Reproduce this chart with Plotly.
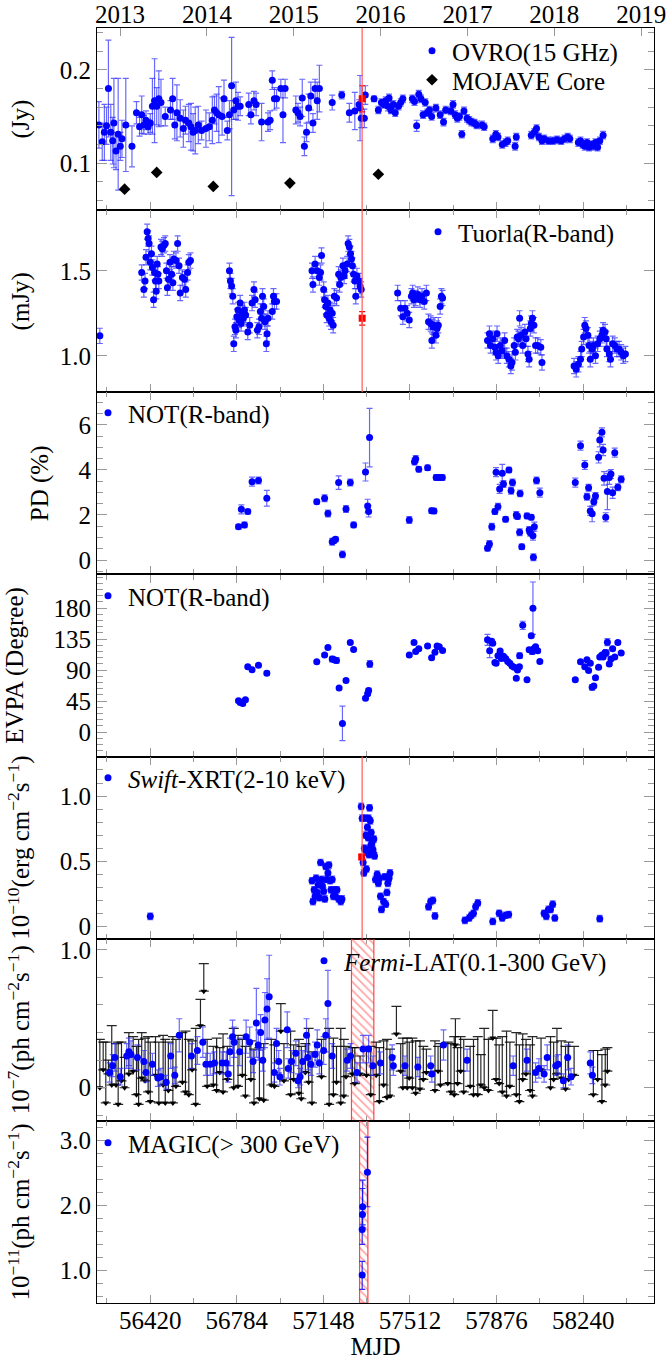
import plotly.graph_objects as go
from plotly.subplots import make_subplots

FONT = "Liberation Serif, Times New Roman, DejaVu Serif, serif"
FS = 25
LEG_FS = 25

X_RANGE = [56196, 58538]
MJD_TICKS = [56420, 56784, 57148, 57512, 57876, 58240]
MJD_MINOR = [56238, 56602, 56966, 57330, 57694, 58058, 58422]
YEAR_MJD = [56293, 56658, 57023, 57388, 57754, 58119, 58484]
YEAR_LABELS = ["2013", "2014", "2015", "2016", "2017", "2018", "2019"]

FLARE_MJD = 57311
FERMI_BAND = [57266, 57360]
MAGIC_BAND = [57300, 57335]

# ---------------- OVRO 15 GHz (Jy) ----------------
OVRO_MJD = [56204, 56218, 56227, 56236, 56244, 56254, 56262, 56267, 56276, 56285, 56294, 56301,
            56317, 56343, 56362, 56375, 56384, 56393, 56402, 56411, 56420, 56429, 56438, 56447,
            56456, 56465, 56483, 56505, 56514, 56523, 56532, 56546, 56559, 56568, 56582, 56591,
            56600, 56609, 56622, 56636, 56654, 56668, 56681, 56690, 56699, 56708, 56722, 56730,
            56744, 56753, 56762, 56771, 56780, 56789, 56798, 56834, 56843, 56856, 56865, 56888,
            56915, 56924, 56933, 56942, 56951, 56969, 56978, 56987, 57032, 57041, 57050, 57059,
            57068, 57077, 57086, 57095, 57104, 57113, 57122, 57131, 57185, 57225, 57257, 57280,
            57298, 57302, 57307, 57320, 57324, 57361, 57379, 57392, 57401, 57410, 57419, 57424,
            57432, 57442, 57450, 57464, 57473, 57482, 57522, 57531, 57540, 57549, 57558, 57567,
            57576, 57585, 57594, 57603, 57621, 57639, 57653, 57662, 57684, 57693, 57702, 57711,
            57720, 57730, 57739, 57752, 57761, 57770, 57783, 57792, 57815, 57824, 57860, 57873,
            57882, 57900, 57914, 57923, 57954, 57959, 58022, 58035, 58044, 58054, 58067, 58076,
            58094, 58112, 58130, 58148, 58162, 58175, 58184, 58220, 58229, 58238, 58247, 58256,
            58265, 58274, 58283, 58292, 58301, 58310, 58324]
OVRO_FLUX = [0.141, 0.123, 0.133, 0.140, 0.180, 0.133, 0.124, 0.143, 0.113, 0.131, 0.118, 0.126,
             0.141, 0.118, 0.154, 0.139, 0.152, 0.141, 0.146, 0.139, 0.143, 0.161, 0.167, 0.161,
             0.169, 0.165, 0.150, 0.157, 0.169, 0.141, 0.154, 0.148, 0.137, 0.146, 0.143, 0.139,
             0.133, 0.135, 0.141, 0.135, 0.137, 0.139, 0.146, 0.157, 0.154, 0.152, 0.150, 0.169,
             0.135, 0.152, 0.183, 0.157, 0.167, 0.161, 0.161, 0.163, 0.152, 0.167, 0.163, 0.144,
             0.144, 0.146, 0.189, 0.169, 0.169, 0.180, 0.152, 0.180, 0.157, 0.154, 0.150, 0.170,
             0.118, 0.133, 0.159, 0.172, 0.143, 0.180, 0.167, 0.180, 0.165, 0.173, 0.154, 0.156,
             0.163, 0.159, 0.148, 0.148, 0.173, 0.169, 0.157, 0.165, 0.163, 0.167, 0.161, 0.170,
             0.157, 0.163, 0.154, 0.161, 0.165, 0.169, 0.169, 0.166, 0.140, 0.174, 0.169, 0.152,
             0.165, 0.154, 0.157, 0.150, 0.159, 0.152, 0.144, 0.157, 0.156, 0.163, 0.152, 0.148,
             0.150, 0.131, 0.156, 0.148, 0.146, 0.144, 0.143, 0.141, 0.141, 0.139, 0.126, 0.131,
             0.128, 0.120, 0.122, 0.124, 0.118, 0.128, 0.130, 0.133, 0.137, 0.128, 0.124, 0.126,
             0.124, 0.124, 0.125, 0.124, 0.126, 0.128, 0.126, 0.122, 0.124, 0.120, 0.118, 0.122,
             0.117, 0.120, 0.118, 0.122, 0.117, 0.124, 0.130]
OVRO_ERR = [0.025, 0.020, 0.030, 0.020, 0.052, 0.030, 0.025, 0.048, 0.020, 0.060, 0.015, 0.020,
            0.050, 0.022, 0.012, 0.010, 0.020, 0.010, 0.010, 0.008, 0.010, 0.030, 0.045, 0.020,
            0.030, 0.025, 0.010, 0.010, 0.022, 0.015, 0.030, 0.020, 0.020, 0.015, 0.020, 0.025,
            0.020, 0.025, 0.020, 0.010, 0.020, 0.015, 0.025, 0.015, 0.020, 0.030, 0.020, 0.020,
            0.010, 0.015, 0.052, 0.010, 0.020, 0.015, 0.010, 0.012, 0.010, 0.010, 0.012, 0.020,
            0.010, 0.010, 0.010, 0.012, 0.010, 0.010, 0.030, 0.010, 0.015, 0.010, 0.010, 0.020,
            0.010, 0.010, 0.015, 0.015, 0.010, 0.010, 0.020, 0.025, 0.008, 0.004, 0.010, 0.020,
            0.005, 0.035, 0.010, 0.010, 0.010, 0.003, 0.004, 0.004, 0.004, 0.004, 0.005, 0.004,
            0.004, 0.004, 0.004, 0.004, 0.004, 0.004, 0.004, 0.004, 0.006, 0.004, 0.004, 0.004,
            0.004, 0.004, 0.004, 0.004, 0.004, 0.004, 0.004, 0.004, 0.004, 0.004, 0.004, 0.004,
            0.004, 0.004, 0.004, 0.004, 0.004, 0.004, 0.004, 0.004, 0.004, 0.004, 0.004, 0.004,
            0.004, 0.004, 0.004, 0.004, 0.004, 0.004, 0.004, 0.004, 0.004, 0.004, 0.004, 0.004,
            0.004, 0.004, 0.004, 0.004, 0.004, 0.004, 0.004, 0.004, 0.004, 0.004, 0.004, 0.004,
            0.004, 0.004, 0.004, 0.004, 0.004, 0.004, 0.004]
OVRO_ERR_MINUS_OVERRIDE = {56762: 0.118}
OVRO_FLARE = dict(mjd=[57311], flux=[0.169], err=[0.014])

MOJAVE_MJD = [56312, 56447, 56685, 57007, 57379]
MOJAVE_FLUX = [0.072, 0.090, 0.075, 0.0785, 0.088]

# ---------------- Tuorla R-band (mJy) ----------------
TUORLA_MJD = [56208,
              56384, 56393, 56398, 56402, 56407, 56411, 56415, 56420, 56425, 56429, 56434, 56438,
              56442, 56445, 56449, 56452, 56456, 56465, 56470, 56478, 56483, 56488, 56492, 56497,
              56503, 56510, 56515, 56519, 56528, 56535, 56541, 56546, 56555, 56564, 56569, 56577,
              56582, 56589,
              56753, 56757, 56762, 56767, 56771, 56776, 56780, 56784, 56789, 56793, 56798, 56802,
              56807, 56811, 56816, 56821, 56830, 56838, 56848, 56856, 56861, 56870, 56877, 56883,
              56888, 56892, 56897, 56902, 56908, 56911, 56915, 56933, 56938, 56942, 56951,
              57100, 57104, 57113, 57122, 57131, 57136, 57140, 57149, 57153, 57158, 57162, 57167,
              57172, 57176, 57180, 57185, 57189, 57194, 57203, 57212, 57216, 57221, 57230, 57235,
              57239, 57248, 57252, 57257, 57262, 57266, 57270, 57275, 57280, 57284, 57289, 57297,
              57302, 57307,
              57460, 57473, 57482, 57491, 57500, 57509, 57518, 57523, 57529, 57536, 57545, 57554,
              57563, 57572, 57581, 57590, 57599, 57604, 57608, 57613, 57621, 57626, 57631, 57639,
              57644, 57649,
              57838, 57846, 57851, 57860, 57869, 57874, 57878, 57883, 57892, 57900, 57910, 57919,
              57928, 57936, 57941, 57950, 57955, 57963, 57968, 57973, 57979, 57986, 57995, 58000,
              58008, 58013, 58018, 58022, 58027, 58033, 58040, 58049, 58062, 58067,
              58202, 58211, 58220, 58229, 58234, 58242, 58247, 58252, 58260, 58265, 58270, 58278,
              58283, 58292, 58301, 58310, 58319, 58324, 58332, 58337, 58340, 58350, 58355, 58364,
              58373, 58382, 58391, 58400, 58409, 58418]
TUORLA_FLUX = [1.117,
               1.49, 1.39, 1.44, 1.58, 1.73, 1.69, 1.66, 1.55, 1.60, 1.52, 1.33, 1.49,
               1.44, 1.38, 1.54, 1.48, 1.44, 1.64, 1.63, 1.65, 1.66, 1.50, 1.40, 1.45,
               1.55, 1.48, 1.43, 1.57, 1.56, 1.66, 1.53, 1.37, 1.46, 1.45, 1.39, 1.49,
               1.55, 1.56,
               1.50, 1.44, 1.41, 1.35, 1.07, 1.17, 1.15, 1.23, 1.27, 1.21, 1.31, 1.19,
               1.25, 1.22, 1.27, 1.24, 1.14, 1.18, 1.31, 1.39, 1.33, 1.15, 1.17, 1.26,
               1.22, 1.35, 1.29, 1.20, 1.07, 1.13, 1.22, 1.26, 1.35, 1.32, 1.32,
               1.50, 1.42, 1.54, 1.50, 1.46, 1.49, 1.59, 1.39, 1.33, 1.29, 1.24, 1.31,
               1.22, 1.27, 1.20, 1.25, 1.18, 1.35, 1.34, 1.48, 1.42, 1.46, 1.53, 1.47,
               1.50, 1.54, 1.66, 1.64, 1.60, 1.57, 1.53, 1.48, 1.44, 1.35, 1.47, 1.44,
               1.41, 1.39,
               1.37, 1.28, 1.23, 1.28, 1.25, 1.21, 1.35, 1.37, 1.33, 1.34, 1.36, 1.33,
               1.35, 1.32, 1.37, 1.20, 1.19, 1.09, 1.17, 1.18, 1.12, 1.16, 1.18, 1.29,
               1.35, 1.34,
               1.09, 1.13, 1.06, 1.10, 1.05, 1.02, 1.13, 1.00, 1.06, 1.03, 1.09, 1.00,
               0.98, 0.94, 0.96, 1.06, 1.02, 1.11, 1.10, 1.22, 1.12, 1.06, 1.14, 1.10,
               1.01, 0.98, 1.16, 1.19, 1.22, 1.18, 1.06, 1.06, 1.05, 0.96,
               0.94, 0.92, 0.95, 0.98, 1.04, 1.11, 1.18, 1.16, 1.12, 1.06, 0.98, 1.04,
               1.06, 1.00, 1.07, 1.10, 1.12, 1.15, 1.14, 1.10, 1.04, 1.01, 0.98, 1.07,
               1.06, 1.04, 1.04, 1.02, 1.00, 1.01]
TUORLA_ERR = 0.045
TUORLA_FLARE = dict(mjd=[57311], flux=[1.22], err=[0.04])

# ---------------- NOT polarization degree (%) ----------------
PD_MJD = [56791, 56803, 56816, 56830, 56848, 56875, 56910,
          57120, 57153, 57167, 57185, 57192, 57199, 57212, 57228, 57243, 57261, 57275, 57325,
          57334, 57338, 57342,
          57509, 57531, 57536, 57549, 57586, 57603, 57613, 57622, 57635, 57648,
          57838, 57846, 57856, 57869, 57874, 57882, 57889, 57900, 57905, 57914, 57928, 57937,
          57943, 57959, 57964, 57973, 57975, 57982, 58004, 58013, 58018, 58022, 58029, 58031,
          58035, 58044, 58058,
          58207, 58229, 58247, 58256, 58263, 58270, 58278, 58285, 58292, 58305, 58310, 58319,
          58324, 58328, 58335, 58342, 58350, 58357, 58364, 58373, 58386, 58400]
PD_VAL = [1.48, 2.25, 1.56, 2.15, 3.48, 3.53, 2.74,
          2.59, 2.74, 2.07, 0.81, 0.86, 0.92, 3.44, 0.25, 2.27, 3.44, 1.56, 3.91,
          2.40, 2.16, 5.44,
          1.78, 4.37, 4.49, 4.03, 4.10, 2.19, 2.18, 3.67, 3.67, 3.66,
          0.52, 0.71, 1.48, 2.15, 3.90, 2.37, 3.16, 3.85, 3.38, 1.81, 4.00, 3.08,
          3.44, 2.00, 1.93, 1.23, 2.96, 0.59, 1.96, 1.33, 1.21, 1.90, 1.08, 0.12,
          1.48, 3.53, 2.99,
          3.44, 5.08, 4.22, 2.81, 3.21, 2.18, 2.05, 2.59, 2.84, 4.56, 5.33, 5.67,
          4.89, 3.63, 1.90, 3.04, 3.66, 3.82, 2.99, 4.77, 3.23, 3.59]
PD_ERR = [0.10, 0.20, 0.12, 0.10, 0.20, 0.15, 0.35,
          0.10, 0.15, 0.15, 0.15, 0.10, 0.10, 0.30, 0.15, 0.15, 0.15, 0.12, 0.40,
          0.30, 0.25, 1.30,
          0.15, 0.15, 0.15, 0.12, 0.12, 0.12, 0.12, 0.12, 0.12, 0.12,
          0.12, 0.15, 0.15, 0.12, 0.20, 0.15, 0.20, 0.40, 0.15, 0.12, 0.12, 0.15,
          0.15, 0.15, 0.12, 0.15, 0.15, 0.12, 0.12, 0.15, 0.15, 0.12, 0.20, 0.15,
          0.20, 0.15, 0.20,
          0.20, 0.20, 0.20, 0.15, 0.15, 0.20, 0.35, 0.15, 0.15, 0.25, 0.30, 0.20,
          0.25, 0.30, 0.20, 0.80, 0.30, 0.20, 0.25, 0.20, 0.15, 0.15]

# ---------------- NOT EVPA (degree) ----------------
EVPA_MJD = [56791, 56798, 56809, 56820, 56830, 56848, 56875, 56910,
            57120, 57153, 57167, 57185, 57194, 57203, 57214, 57228, 57243, 57261, 57275, 57325,
            57334, 57338, 57343,
            57509, 57529, 57536, 57549, 57586, 57603, 57617, 57626, 57635, 57649,
            57838, 57847, 57855, 57860, 57869, 57874, 57882, 57891, 57896, 57905, 57914, 57923,
            57932, 57941, 57950, 57959, 57964, 57972, 57973, 57986, 58004, 58013, 58022, 58029,
            58026, 58033, 58040, 58049, 58058,
            58207, 58229, 58247, 58256, 58263, 58270, 58278, 58285, 58292, 58305, 58310, 58319,
            58324, 58332, 58337, 58342, 58350, 58357, 58364, 58373, 58386, 58400]
EVPA_VAL = [45.5, 43.0, 41.6, 46.9, 95.0, 90.5, 97.0, 85.6,
            102.0, 112.0, 123.0, 106.0, 105.0, 104.0, 64.0, 12.6, 75.0, 130.0, 120.0, 49.0,
            55.6, 60.5, 99.0,
            112.0, 130.0, 117.0, 121.0, 125.0, 108.0, 116.0, 125.0, 124.0, 118.5,
            134.0, 118.0, 132.0, 129.0, 101.0, 100.0, 111.0, 117.6, 107.0, 110.0, 107.0, 102.6,
            100.0, 96.0, 94.0, 78.0, 90.0, 95.0, 111.0, 155.0, 76.0, 119.5, 140.0, 180.0,
            117.0, 121.0, 124.0, 118.0, 102.6,
            76.0, 102.0, 95.0, 105.0, 89.5, 100.0, 65.0, 67.0, 79.0, 94.0, 109.0, 112.0,
            109.0, 115.6, 114.7, 130.6, 98.7, 106.0, 121.0, 109.0, 130.0, 115.0]
EVPA_ERR = [2, 2, 2, 2, 2, 2, 2, 3,
            2, 2, 2, 4, 2, 4, 2, 25, 2, 2, 2, 2,
            2, 3, 5,
            2, 2, 2, 2, 2, 2, 2, 2, 2, 2,
            8, 10, 3, 2, 2, 2, 2, 2, 2, 2, 2, 2,
            2, 2, 2, 2, 2, 2, 4, 6, 2, 2, 2, 38,
            4, 3, 2, 2, 2,
            2, 2, 2, 2, 2, 2, 4, 2, 2, 2, 2, 2,
            2, 2, 5, 5, 2, 2, 2, 2, 2, 2]

# ---------------- Swift-XRT 2-10 keV ----------------
SWIFT_MJD = [56420,
             57100, 57104, 57109, 57113, 57117, 57122, 57126, 57131, 57136, 57140, 57144, 57149,
             57154, 57158, 57162, 57167, 57171, 57176, 57180, 57185, 57190, 57194, 57199, 57205,
             57212, 57221, 57226,
             57307, 57311, 57315, 57318, 57320, 57322, 57325, 57327, 57329, 57331, 57333, 57336,
             57338, 57340, 57342, 57345, 57347, 57349, 57352, 57356, 57358, 57360, 57363, 57367,
             57374, 57379, 57383, 57388, 57392, 57401, 57406, 57410, 57415, 57419, 57424, 57428,
             57590, 57599, 57608, 57617, 57743, 57761, 57770, 57779, 57788, 57797, 57860, 57887,
             57900, 57914, 57927, 58076, 58085, 58094, 58103, 58112, 58121, 58310]
SWIFT_FLUX = [0.077,
              0.35, 0.19, 0.28, 0.23, 0.37, 0.26, 0.32, 0.22, 0.49, 0.36, 0.31, 0.27,
              0.21, 0.46, 0.36, 0.41, 0.47, 0.35, 0.28, 0.36, 0.23, 0.28, 0.23, 0.28,
              0.21, 0.19, 0.21,
              0.92, 0.83, 0.49, 0.41, 0.60, 0.83, 0.59, 0.70, 0.44, 0.57, 0.76, 0.68,
              0.83, 0.55, 0.91, 0.81, 0.62, 0.72, 0.64, 0.59, 0.56, 0.67, 0.54, 0.36,
              0.40, 0.33, 0.37, 0.23, 0.13, 0.19, 0.38, 0.17, 0.26, 0.33, 0.37, 0.41,
              0.15, 0.19, 0.20, 0.08, 0.046, 0.064, 0.085, 0.10, 0.15, 0.18, 0.038, 0.10,
              0.064, 0.085, 0.09, 0.10, 0.077, 0.13, 0.13, 0.17, 0.064, 0.059]
SWIFT_ERR = 0.025
SWIFT_FLARE = dict(mjd=[57309], flux=[0.533], err=[0.02])

# ---------------- Fermi-LAT 0.1-300 GeV ----------------
FERMI_MJD = [56249, 56262, 56271, 56294, 56321, 56330, 56339, 56366, 56393, 56402, 56429, 56452,
             56465, 56487, 56506, 56523, 56542, 56593, 56618, 56641, 56654, 56672, 56690, 56722,
             56739, 56748, 56755, 56766, 56773, 56796, 56823, 56838, 56852, 56866, 56874, 56884,
             56893, 56902, 56911, 56920, 56942, 56951, 56960, 56965, 56996, 57000, 57014, 57032,
             57041, 57050, 57061, 57077, 57082, 57095, 57113, 57122, 57131, 57149, 57158, 57167,
             57185, 57248, 57262, 57289, 57315, 57338, 57356, 57388, 57437, 57442, 57491, 57545,
             57599, 57604, 57653, 57752, 57946, 58004, 58040, 58054, 58076, 58089, 58125, 58135,
             58157, 58175, 58189, 58270, 58279]
FERMI_FLUX = [0.11, 0.16, 0.22, 0.08, 0.23, 0.26, 0.24, 0.22, 0.19, 0.11, 0.17, 0.07,
              0.08, 0.04, 0.23, 0.09, 0.38, 0.23, 0.27, 0.33, 0.17, 0.17, 0.18, 0.18,
              0.18, 0.10, 0.26, 0.37, 0.33, 0.26, 0.37, 0.33, 0.19, 0.47, 0.31, 0.40,
              0.20, 0.49, 0.57, 0.66, 0.11, 0.32, 0.19, 0.08, 0.42, 0.14, 0.19, 0.25,
              0.05, 0.08, 0.19, 0.38, 0.22, 0.17, 0.24, 0.31, 0.18, 0.27, 0.38, 0.61,
              0.23, 0.20, 0.23, 0.11, 0.28, 0.28, 0.16, 0.18, 0.22, 0.16, 0.16, 0.15,
              0.16, 0.10, 0.31, 0.20, 0.16, 0.20, 0.11, 0.14, 0.10, 0.22, 0.16, 0.17,
              0.05, 0.22, 0.08, 0.18, 0.09]
FERMI_ERR = [0.07, 0.08, 0.10, 0.06, 0.09, 0.10, 0.10, 0.09, 0.08, 0.07, 0.08, 0.06,
             0.06, 0.05, 0.09, 0.06, 0.12, 0.09, 0.10, 0.11, 0.08, 0.08, 0.08, 0.08,
             0.08, 0.06, 0.10, 0.12, 0.11, 0.10, 0.12, 0.11, 0.08, 0.25, 0.11, 0.13,
             0.08, 0.20, 0.22, 0.30, 0.07, 0.11, 0.08, 0.06, 0.13, 0.07, 0.08, 0.09,
             0.05, 0.06, 0.08, 0.12, 0.09, 0.08, 0.09, 0.11, 0.08, 0.10, 0.12, 0.24,
             0.09, 0.08, 0.09, 0.07, 0.10, 0.10, 0.07, 0.08, 0.09, 0.07, 0.07, 0.07,
             0.07, 0.06, 0.11, 0.08, 0.07, 0.08, 0.07, 0.07, 0.06, 0.09, 0.07, 0.07,
             0.05, 0.09, 0.06, 0.08, 0.06]
FERMI_UL_MJD = [56208, 56222, 56233, 56244, 56258, 56276, 56285, 56299, 56312, 56330, 56348, 56362,
                56371, 56384, 56398, 56411, 56420, 56442, 56456, 56474, 56483, 56496, 56515, 56528,
                56555, 56568, 56582, 56596, 56611, 56631, 56645, 56659, 56685, 56699, 56712, 56726,
                56744, 56771, 56789, 56807, 56820, 56843, 56856, 56879, 56897, 56929, 56942, 56969,
                56982, 57010, 57023, 57045, 57055, 57072, 57086, 57100, 57140, 57172, 57190, 57203,
                57221, 57234, 57243, 57270, 57280, 57302, 57329, 57347, 57370, 57383, 57401, 57415,
                57428, 57455, 57473, 57482, 57500, 57509, 57522, 57536, 57554, 57568, 57581, 57617,
                57630, 57640, 57671, 57684, 57698, 57703, 57712, 57725, 57738, 57765, 57779, 57797,
                57810, 57824, 57842, 57860, 57874, 57887, 57900, 57918, 57932, 57959, 57972, 57986,
                58000, 58017, 58027, 58063, 58103, 58116, 58130, 58148, 58166, 58179, 58202, 58283,
                58301, 58319, 58333, 58342]
FERMI_UL_TOP = [0.35, 0.33, 0.33, 0.20, 0.45, 0.32, 0.33, 0.33, 0.22, 0.40, 0.37, 0.30,
                0.35, 0.40, 0.36, 0.37, 0.33, 0.37, 0.33, 0.38, 0.35, 0.33, 0.37, 0.35,
                0.40, 0.41, 0.35, 0.34, 0.43, 0.64, 0.90, 0.35, 0.30, 0.36, 0.29, 0.39,
                0.30, 0.43, 0.38, 0.35, 0.30, 0.34, 0.28, 0.29, 0.32, 0.35, 0.31, 0.61,
                0.32, 0.41, 0.31, 0.35, 0.30, 0.32, 0.43, 0.26, 0.35, 0.43, 0.36, 0.30,
                0.43, 0.35, 0.30, 0.29, 0.29, 0.23, 0.28, 0.30, 0.33, 0.29, 0.34, 0.35,
                0.28, 0.59, 0.32, 0.36, 0.36, 0.33, 0.36, 0.34, 0.34, 0.30, 0.28, 0.34,
                0.30, 0.32, 0.33, 0.32, 0.37, 0.50, 0.29, 0.37, 0.35, 0.30, 0.35, 0.37,
                0.24, 0.43, 0.35, 0.56, 0.36, 0.31, 0.37, 0.41, 0.33, 0.40, 0.31, 0.39,
                0.35, 0.31, 0.37, 0.36, 0.37, 0.33, 0.43, 0.34, 0.30, 0.33, 0.30, 0.27,
                0.27, 0.24, 0.28, 0.29]
FERMI_UL_TIP = [0.00, 0.13, -0.11, 0.10, 0.02, 0.02, -0.12, 0.05, 0.00, 0.10, 0.12, -0.05,
                -0.12, 0.07, 0.05, -0.03, -0.10, 0.09, -0.11, 0.02, -0.11, -0.02, -0.11, 0.01,
                0.04, -0.03, -0.05, 0.13, -0.12, 0.45, 0.70, 0.01, 0.02, -0.02, 0.11, -0.03,
                0.06, 0.00, 0.01, 0.09, -0.06, 0.06, -0.11, -0.08, -0.09, 0.02, 0.01, 0.41,
                0.05, -0.05, 0.06, -0.04, -0.08, 0.11, 0.04, -0.11, 0.08, -0.12, -0.05, 0.04,
                -0.11, -0.06, 0.08, 0.10, 0.03, 0.10, 0.09, -0.05, 0.09, -0.10, 0.02, -0.07,
                -0.06, 0.39, 0.12, 0.00, 0.00, 0.07, 0.00, -0.04, -0.01, 0.06, 0.11, -0.02,
                0.12, 0.02, 0.03, -0.03, -0.05, 0.31, 0.03, 0.12, -0.03, 0.01, -0.05, -0.05,
                0.02, 0.00, -0.02, 0.36, 0.06, 0.03, -0.03, -0.06, 0.01, -0.05, -0.10, 0.06,
                0.10, -0.02, -0.06, 0.13, 0.00, 0.06, 0.10, 0.07, -0.01, 0.06, 0.09, -0.05,
                0.06, -0.10, 0.02, 0.12]

# ---------------- MAGIC > 300 GeV ----------------
MAGIC_MJD = [57311, 57311, 57312, 57313, 57333]
MAGIC_FLUX = [0.93, 1.63, 1.86, 1.98, 2.51]
MAGIC_ERR_UP = [0.21, 0.20, 0.40, 0.41, 0.54]
MAGIC_ERR_DN = [0.22, 0.23, 0.20, 0.28, 0.53]

# ---------------- axes ----------------
Y_SPECS = [
    dict(range=[0.0495, 0.245], tickvals=[0.1, 0.2], ticktext=["0.1", "0.2"],
         minor=[0.06, 0.08, 0.12, 0.14, 0.16, 0.18, 0.22, 0.24], title="(Jy)"),
    dict(range=[0.785, 1.857], tickvals=[1.0, 1.5], ticktext=["1.0", "1.5"],
         minor=[], title="(mJy)"),
    dict(range=[-0.64, 7.45], tickvals=[0, 2, 4, 6], ticktext=["0", "2", "4", "6"],
         minor=[-0.5, 0.5, 1, 1.5, 2.5, 3, 3.5, 4.5, 5, 5.5, 6.5, 7], title="PD (%)"),
    dict(range=[-35.6, 229], tickvals=[0, 45, 90, 135, 180],
         ticktext=["0", "45", "90", "135", "180"],
         minor=[-27, -18, -9, 9, 18, 27, 36, 54, 63, 72, 81, 99, 108, 117, 126, 144, 153, 162,
                171, 189, 198, 207, 216, 225], title="EVPA (Degree)"),
    dict(range=[-0.095, 1.303], tickvals=[0, 0.5, 1.0], ticktext=["0", "0.5", "1.0"],
         minor=[-0.1, 0.1, 0.2, 0.3, 0.4, 0.6, 0.7, 0.8, 0.9, 1.1, 1.2, 1.3],
         title="10<sup>−10</sup>(erg cm<sup>−2</sup>s<sup>−1</sup>)"),
    dict(range=[-0.24, 1.08], tickvals=[0, 1.0], ticktext=["0", "1.0"],
         minor=[-0.2, 0.2, 0.4, 0.6, 0.8], title="10<sup>−7</sup>(ph cm<sup>−2</sup>s<sup>−1</sup>)"),
    dict(range=[0.5, 3.3], tickvals=[1, 2, 3], ticktext=["1.0", "2.0", "3.0"],
         minor=[0.6, 0.8, 1.2, 1.4, 1.6, 1.8, 2.2, 2.4, 2.6, 2.8, 3.2],
         title="10<sup>−11</sup>(ph cm<sup>−2</sup>s<sup>−1</sup>)"),
]

BLUE = "#0000ff"
ERR_BLUE = "rgba(40,40,255,0.7)"
RED = "#ff0000"
TICK_GREY = "#9a9a9a"


def ebar(arr, color=ERR_BLUE, minus=None):
    d = dict(type="data", array=arr, color=color, thickness=1.2, width=3, visible=True)
    if minus is not None:
        d["symmetric"] = False
        d["arrayminus"] = minus
    return d


fig = make_subplots(rows=7, cols=1, shared_xaxes=True, vertical_spacing=0)

# Row 1: OVRO + MOJAVE
ovro_minus = [OVRO_ERR_MINUS_OVERRIDE.get(m, e) for m, e in zip(OVRO_MJD, OVRO_ERR)]
fig.add_trace(go.Scatter(x=OVRO_MJD, y=OVRO_FLUX, mode="markers", name="OVRO(15 GHz)",
                         marker=dict(color=BLUE, size=7), error_y=ebar(OVRO_ERR, minus=ovro_minus),
                         legend="legend"), row=1, col=1)
fig.add_trace(go.Scatter(x=OVRO_FLARE["mjd"], y=OVRO_FLARE["flux"], mode="markers", showlegend=False,
                         marker=dict(color=RED, size=7, symbol="square"),
                         error_y=ebar(OVRO_FLARE["err"], color=RED)), row=1, col=1)
fig.add_trace(go.Scatter(x=MOJAVE_MJD, y=MOJAVE_FLUX, mode="markers", name="MOJAVE Core",
                         marker=dict(color="black", size=9, symbol="diamond"),
                         legend="legend2"), row=1, col=1)

# Row 2: Tuorla
fig.add_trace(go.Scatter(x=TUORLA_MJD, y=TUORLA_FLUX, mode="markers", name="Tuorla(R-band)",
                         marker=dict(color=BLUE, size=7),
                         error_y=ebar([TUORLA_ERR] * len(TUORLA_MJD)), legend="legend3"), row=2, col=1)
fig.add_trace(go.Scatter(x=TUORLA_FLARE["mjd"], y=TUORLA_FLARE["flux"], mode="markers", showlegend=False,
                         marker=dict(color=RED, size=7, symbol="square"),
                         error_y=ebar(TUORLA_FLARE["err"], color=RED)), row=2, col=1)

# Row 3: PD
fig.add_trace(go.Scatter(x=PD_MJD, y=PD_VAL, mode="markers", name="NOT(R-band)",
                         marker=dict(color=BLUE, size=7), error_y=ebar(PD_ERR),
                         legend="legend4"), row=3, col=1)
# Row 4: EVPA
fig.add_trace(go.Scatter(x=EVPA_MJD, y=EVPA_VAL, mode="markers", name="NOT(R-band)",
                         marker=dict(color=BLUE, size=7), error_y=ebar(EVPA_ERR),
                         legend="legend5"), row=4, col=1)
# Row 5: Swift
fig.add_trace(go.Scatter(x=SWIFT_MJD, y=SWIFT_FLUX, mode="markers", name="<i>Swift</i>-XRT(2-10 keV)",
                         marker=dict(color=BLUE, size=7),
                         error_y=ebar([SWIFT_ERR] * len(SWIFT_MJD)), legend="legend6"), row=5, col=1)
fig.add_trace(go.Scatter(x=SWIFT_FLARE["mjd"], y=SWIFT_FLARE["flux"], mode="markers", showlegend=False,
                         marker=dict(color=RED, size=7, symbol="square"),
                         error_y=ebar(SWIFT_FLARE["err"], color=RED)), row=5, col=1)

HATCH = dict(shape="\\", fgcolor="rgba(255,50,50,0.9)", bgcolor="rgba(0,0,0,0)", size=6, solidity=0.28)

# Row 6: Fermi
fy0, fy1 = Y_SPECS[5]["range"]
fig.add_trace(go.Scatter(x=[FERMI_BAND[0], FERMI_BAND[1], FERMI_BAND[1], FERMI_BAND[0], FERMI_BAND[0]],
                         y=[fy0, fy0, fy1, fy1, fy0], mode="lines", fill="toself", showlegend=False,
                         line=dict(color="rgba(255,50,50,0.9)", width=1.2),
                         fillcolor="rgba(0,0,0,0)", fillpattern=HATCH,
                         hoverinfo="skip"), row=6, col=1)
fig.add_trace(go.Scatter(x=FERMI_UL_MJD, y=FERMI_UL_TIP, mode="markers", showlegend=False,
                         marker=dict(color="black", size=6, symbol="triangle-down"),
                         error_y=dict(type="data", symmetric=False,
                                      array=[t - b for t, b in zip(FERMI_UL_TOP, FERMI_UL_TIP)],
                                      arrayminus=[0] * len(FERMI_UL_MJD),
                                      color="rgba(0,0,0,0.85)", thickness=1.2, width=5)),
              row=6, col=1)
fig.add_trace(go.Scatter(x=FERMI_MJD, y=FERMI_FLUX, mode="markers", name="<i>Fermi</i>-LAT(0.1-300 GeV)",
                         marker=dict(color=BLUE, size=7), error_y=ebar(FERMI_ERR),
                         legend="legend7"), row=6, col=1)

# Row 7: MAGIC
my0, my1 = Y_SPECS[6]["range"]
fig.add_trace(go.Scatter(x=[MAGIC_BAND[0], MAGIC_BAND[1], MAGIC_BAND[1], MAGIC_BAND[0], MAGIC_BAND[0]],
                         y=[my0, my0, my1, my1, my0], mode="lines", fill="toself", showlegend=False,
                         line=dict(color="rgba(255,50,50,0.9)", width=1.2),
                         fillcolor="rgba(0,0,0,0)", fillpattern=HATCH,
                         hoverinfo="skip"), row=7, col=1)
fig.add_trace(go.Scatter(x=MAGIC_MJD, y=MAGIC_FLUX, mode="markers", name="MAGIC(&gt; 300 GeV)",
                         marker=dict(color=BLUE, size=7),
                         error_y=ebar(MAGIC_ERR_UP, color="rgba(20,20,255,0.9)", minus=MAGIC_ERR_DN),
                         legend="legend8"), row=7, col=1)

# year axis helper trace
fig.add_trace(go.Scatter(x=YEAR_MJD, y=[None] * len(YEAR_MJD), xaxis="x8", yaxis="y",
                         showlegend=False, hoverinfo="skip", mode="markers"))

# red flare line in panels 1, 2, 5
for r in (1, 2, 5):
    fig.add_shape(type="line", x0=FLARE_MJD, x1=FLARE_MJD, y0=0, y1=1,
                  xref=f"x{r}" if r > 1 else "x", yref=(f"y{r} domain" if r > 1 else "y domain"),
                  line=dict(color="rgba(255,90,90,0.75)", width=1.6), layer="above")

font = dict(family=FONT, size=FS, color="black")
leg_font = dict(family=FONT, size=LEG_FS, color="black")

for i in range(7):
    r = i + 1
    spec = Y_SPECS[i]
    fig.update_xaxes(row=r, col=1, range=X_RANGE, tickmode="array", tickvals=MJD_TICKS,
                     ticktext=[str(v) for v in MJD_TICKS], ticks="inside", ticklen=8,
                     tickcolor=TICK_GREY, tickwidth=1, showline=True, linecolor="black",
                     linewidth=1.2, mirror=("ticks" if r > 1 else True), showgrid=False,
                     zeroline=False, showticklabels=(r == 7), tickfont=font, automargin=False,
                     minor=dict(tickmode="array", tickvals=MJD_MINOR, ticks="inside", ticklen=5,
                                tickcolor=TICK_GREY, tickwidth=1, showgrid=False))
    fig.update_yaxes(row=r, col=1, range=spec["range"], tickmode="array", tickvals=spec["tickvals"],
                     ticktext=spec["ticktext"], ticks="inside", ticklen=10, tickcolor=TICK_GREY,
                     tickwidth=1, showline=True, linecolor="black", linewidth=1.2, mirror="ticks",
                     showgrid=False, zeroline=False, tickfont=font, automargin=False,
                     title=dict(text=spec["title"], font=font, standoff=22),
                     minor=dict(tickmode="array", tickvals=spec["minor"], ticks="inside", ticklen=6,
                                tickcolor=TICK_GREY, tickwidth=1, showgrid=False))

fig.update_xaxes(row=7, col=1, ticklabelstandoff=-5, title=dict(text="MJD", font=font, standoff=9))

fig.update_layout(
    xaxis8=dict(overlaying="x", side="top", anchor="y", range=X_RANGE, tickmode="array",
                tickvals=YEAR_MJD, ticktext=YEAR_LABELS, ticks="inside", ticklen=8,
                tickcolor=TICK_GREY, showline=False, showgrid=False, zeroline=False,
                tickfont=font, automargin=False, ticklabelstandoff=-1),
)

PLOT_L, PLOT_R, PLOT_T, PLOT_B = 97, 18, 28, 57
W, H = 672, 1360
pw = W - PLOT_L - PLOT_R
ph = H - PLOT_T - PLOT_B


def px2paper(px, py):
    return (px - PLOT_L) / pw, (H - PLOT_B - py) / ph


def leg(px, py):
    x, y = px2paper(px, py)
    return dict(x=x, y=y, xanchor="left", yanchor="middle", bgcolor="rgba(0,0,0,0)",
                borderwidth=0, font=leg_font, itemwidth=30, tracegroupgap=0)


fig.update_layout(
    width=W, height=H,
    margin=dict(l=PLOT_L, r=PLOT_R, t=PLOT_T, b=PLOT_B, pad=0, autoexpand=False),
    paper_bgcolor="white", plot_bgcolor="white",
    font=font,
    showlegend=True,
    legend=leg(412, 51),
    legend2=leg(412, 80),
    legend3=leg(418, 232),
    legend4=leg(88, 413),
    legend5=leg(88, 596),
    legend6=leg(88, 778),
    legend7=leg(304, 961),
    legend8=leg(88, 1143),
)

fig.write_html("out.html")
